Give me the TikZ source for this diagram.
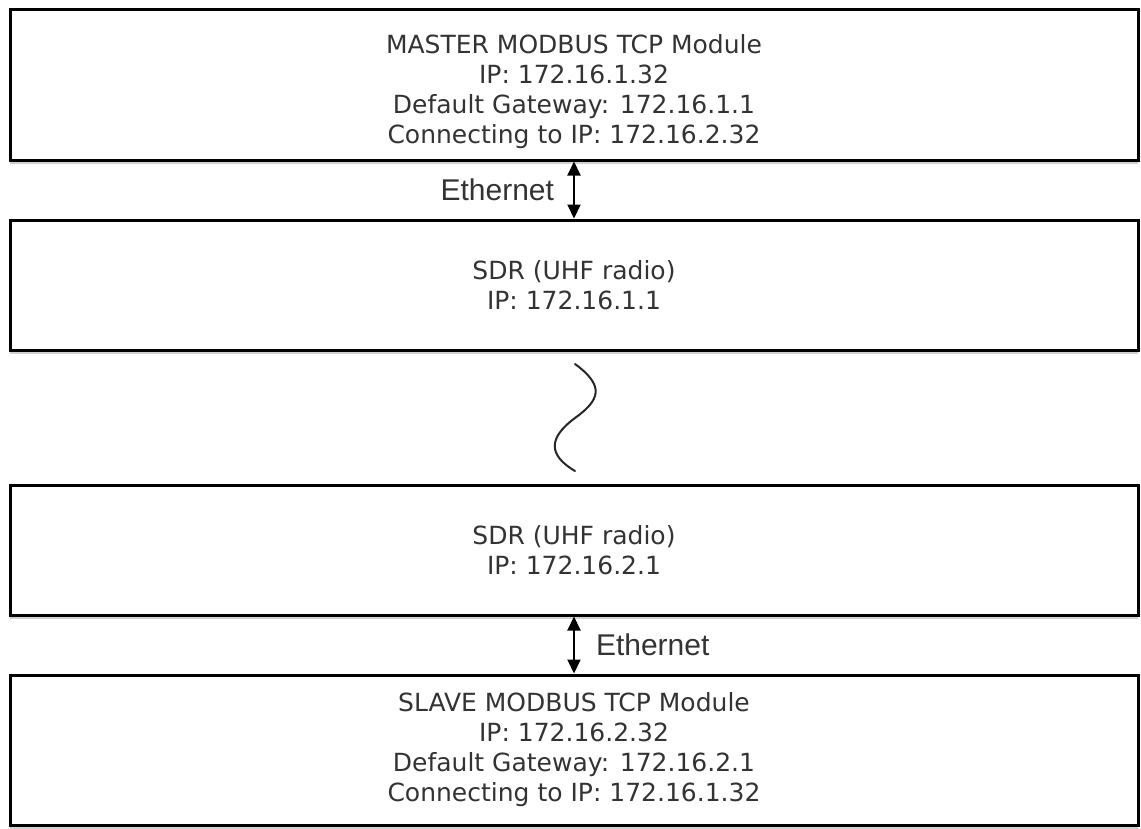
\documentclass[tikz,border=0pt]{standalone}
\usepackage{fontspec}
\setmainfont{DejaVu Sans}
\newfontfamily\ethfont{Liberation Sans}
\usetikzlibrary{arrows.meta,shadows}

\begin{document}
\begin{tikzpicture}[x=1pt,y=-1pt,
  box/.style={draw=black, line width=3pt, fill=white, minimum width=1128pt,
    align=center, text=black!80, font=\fontsize{25}{30}\selectfont,
    drop shadow={shadow xshift=0pt, shadow yshift=-4pt, opacity=0.18, fill=black}},
  link/.style={line width=2pt, {Triangle[length=14pt,width=13pt]}-{Triangle[length=14pt,width=13pt]}},
  linklabel/.style={text=black!80, font=\ethfont\fontsize{30}{32}\selectfont, inner sep=0pt},
  wave/.style={line width=2pt, black!85, line cap=round}]

% page frame
\useasboundingbox (0,0) rectangle (1141,828);

% the four units
\node[box, minimum height=151pt] (master) at (574,84.5)
  {\rule{0pt}{33pt}MASTER MODBUS TCP Module\\IP: 172.16.1.32\\Default Gateway: 172.16.1.1\\Connecting to IP: 172.16.2.32};
\node[box, minimum height=130pt] (sdrA) at (574,285)
  {SDR (UHF radio)\\IP: 172.16.1.1};
\node[box, minimum height=130pt] (sdrB) at (574,550)
  {SDR (UHF radio)\\IP: 172.16.2.1};
\node[box, minimum height=150pt] (slave) at (574,750)
  {SLAVE MODBUS TCP Module\\IP: 172.16.2.32\\Default Gateway: 172.16.2.1\\Connecting to IP: 172.16.1.32};

% wired links
\draw[link] (master.south) -- (sdrA.north)
  node[midway, anchor=east, xshift=-19pt, linklabel] (eth1) {Ethernet};
\draw[link] (sdrB.south) -- (slave.north)
  node[midway, anchor=west, xshift=21pt, linklabel] (eth2) {Ethernet};

% radio link
\coordinate (w0) at (575,364);
\coordinate (w1) at (575,418);
\coordinate (w2) at (575,471);
\draw[wave] (w0) .. controls (605,386) and (600,400) .. (w1)
            .. controls (548,438) and (548,455) .. (w2);
\end{tikzpicture}
\end{document}
